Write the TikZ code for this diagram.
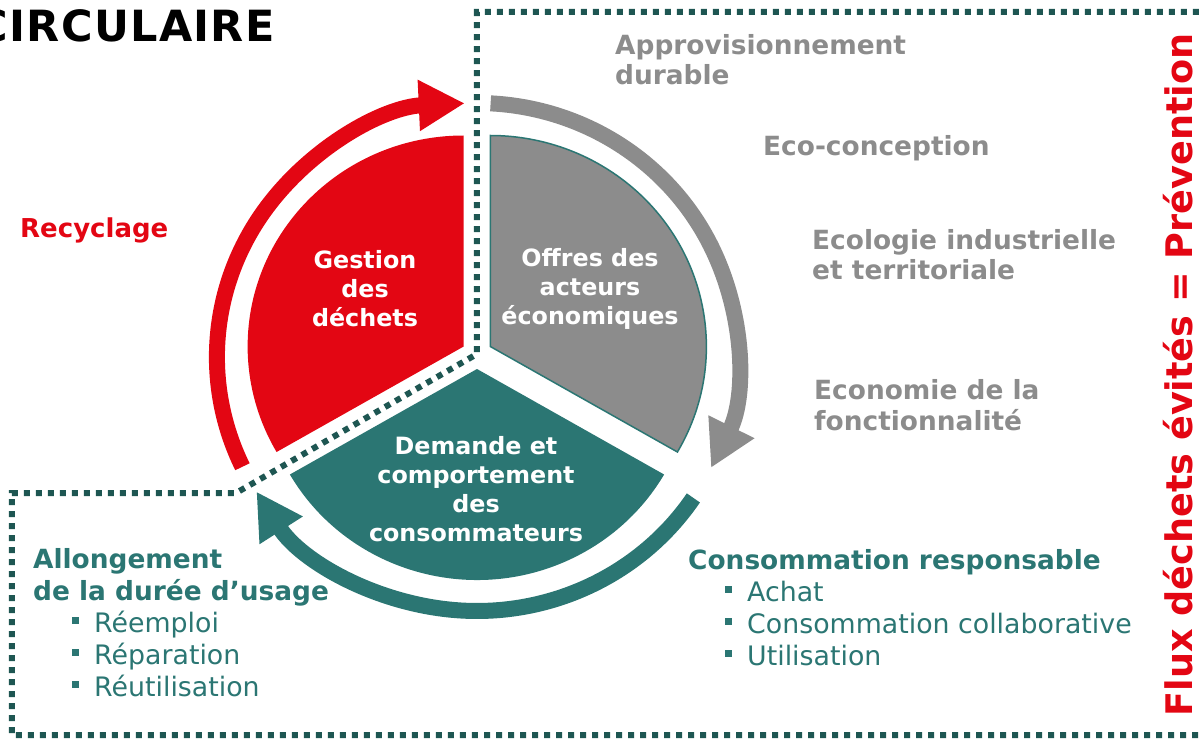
\documentclass[tikz,border=0pt]{standalone}
\usepackage{fontspec}
\setmainfont{DejaVu Sans}
\usepackage{tikz}
\usetikzlibrary{arrows.meta,positioning,calc}
\usepackage{xcolor}

\definecolor{rouge}{HTML}{E30613}
\definecolor{gris}{HTML}{8C8C8C}
\definecolor{sarcelle}{HTML}{2B7673}
\definecolor{pointille}{HTML}{1E5652}
\newcommand{\puce}{\makebox[22pt][l]{\rule[8pt]{7pt}{7pt}}}

\begin{document}
\begin{tikzpicture}[
    x=1pt, y=1pt,
    anneau/.style={line width=16pt, -{Triangle[length=46pt,width=48pt]}},
    titre secteur/.style={
        text=white,
        font=\fontsize{23.8}{29}\selectfont\bfseries,
        align=center,
        inner sep=0pt
    },
    etiquette/.style={text=gris, font=\fontsize{26.4}{30.5}\selectfont\bfseries,
        align=left, anchor=base west, inner sep=0pt},
    rubrique/.style={text=sarcelle, font=\fontsize{26.4}{32}\selectfont\bfseries,
        align=left, anchor=base west, inner sep=0pt},
    liste/.style={text=sarcelle, font=\fontsize{26.8}{32}\selectfont,
        align=left, anchor=base west, inner sep=0pt},
    frontiere/.style={pointille, line width=6pt, dash pattern=on 6pt off 6pt}
]
\useasboundingbox (-477,-385) rectangle (725,354);
\clip (-477,-385) rectangle (725,354);

% -------- Secteurs --------
\begin{scope}[xscale=1.024]
\fill[rouge, shift={(150:15)}] (0,0) -- (90:211)
    arc[start angle=90, end angle=210, radius=211] -- cycle;
\fill[gris, draw=sarcelle, line width=1.5pt, shift={(30:15)}] (0,0) -- (-30:211)
    arc[start angle=-30, end angle=90, radius=211] -- cycle;
\fill[sarcelle, shift={(270:15)}] (0,0) -- (210:211)
    arc[start angle=210, end angle=330, radius=211] -- cycle;

% -------- Fleches circulaires --------
\begin{scope}[shift={(0,-3)}]
\draw[anneau, rouge] (205.6:254) arc[start angle=205.6, end angle=92.7, radius=254];
\draw[anneau, gris] (87:254) arc[start angle=87, end angle=-25.9, radius=254];
\draw[anneau, sarcelle] (-33.7:254) arc[start angle=-33.7, end angle=-148, radius=254];
\end{scope}
\end{scope}

\node[titre secteur] (gestion) at (-112,65) {Gestion\\des\\déchets};
\node[titre secteur] (offres) at (113,65) {Offres des\\acteurs\\économiques};
\node[titre secteur] (demande) at (-1,-135) {Demande et\\comportement\\des\\consommateurs};

% -------- Pointilles --------
\draw[frontiere] (733,-381) -- (-465,-381) -- (-465,-139) -- (-241,-139)
    -- (0,0) -- (0,342) -- (733,342);

% -------- Textes --------
\node[anchor=base east, inner sep=0pt,
    font=\fontsize{43}{48}\selectfont\bfseries\addfontfeature{LetterSpace=3}]
    (titre) at (-202,312) {CIRCULAIRE};
\node[text=rouge, font=\fontsize{26}{31}\selectfont\bfseries, anchor=base west,
    inner sep=0pt] (recyclage) at (-457,116) {Recyclage};

\node[etiquette] (appro) at (138,269) {Approvisionnement\\durable};
\node[etiquette] (ecoconc) at (286,198) {Eco-conception};
\node[etiquette] (ecolind) at (335,74) {Ecologie industrielle\\et territoriale};
\node[etiquette] (ecofonc) at (337,-76) {Economie de la\\fonctionnalité};

\node[rubrique] (conso) at (211,-215) {Consommation responsable};
\node[liste] (listeconso) at (248,-311)
    {\puce Achat\\\puce Consommation collaborative\\\puce Utilisation};

\node[rubrique] (allong) at (-444,-246) {Allongement\\de la durée d’usage};
\node[liste] (listeallong) at (-405,-342)
    {\puce Réemploi\\\puce Réparation\\\puce Réutilisation};

\node[rotate=90, text=rouge, font=\fontsize{36.6}{40}\selectfont\bfseries,
    inner sep=0pt] (flux) at (701,-21) {Flux déchets évités = Prévention};

\end{tikzpicture}
\end{document}
